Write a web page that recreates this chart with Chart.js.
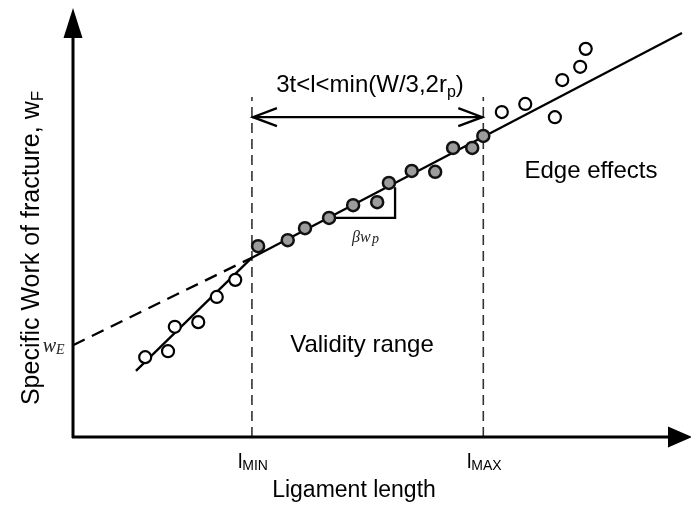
<!DOCTYPE html>
<html>
<head>
<meta charset="utf-8">
<script src="https://cdn.jsdelivr.net/npm/chart.js@4/dist/chart.umd.min.js"></script>
<style>
  body { margin: 0; background: #fff; }
  #wrap { width: 691px; height: 508px; position: relative; }
</style>
</head>
<body>
<div id="wrap"><canvas id="chart"></canvas></div>
<script>
// ligament length (x) vs specific work of fracture (y), arbitrary units 0-100
const openLeftX = [11.7, 15.4, 16.5, 20.3, 23.3, 26.3];
const openLeftY = [18.7, 20.1, 25.8, 26.9, 32.8, 36.8];
const validX = [30.0, 34.8, 37.6, 41.5, 45.4, 49.3, 51.2, 54.9, 58.7, 61.6, 64.7, 66.5];
const validY = [44.7, 46.1, 48.9, 51.3, 54.3, 55.0, 59.5, 62.3, 62.1, 67.7, 67.7, 70.5];
const edgeX = [69.5, 73.3, 78.1, 79.3, 82.2, 83.1];
const edgeY = [76.1, 78.0, 74.9, 83.6, 86.7, 90.9];

const lMin = 29.0;
const lMax = 66.5;
const wE = 21.5;
const fitLowX = [10.2, lMin];
const fitLowY = [15.5, 42.0];
const fitMainX = [lMin, 98.7];
const fitMainY = [42.0, 94.6];
const extX = [0, lMin];
const extY = [wE, 42.0];
const rangeY = 74.9;
const guideTop = 79.6;
const triX = [41.5, 52.2, 52.2];
const triY = [51.3, 51.3, 58.5];

function pts(xs, ys) {
    return xs.map((x, i) => ({x: x, y: ys[i]}));
}

function lineSet(xs, ys, opts) {
    return Object.assign({
        data: pts(xs, ys),
        showLine: true,
        pointRadius: 0,
        borderColor: '#000',
        borderWidth: 2.3,
        fill: false
    }, opts || {});
}

// text with optional subscript pieces: [[text, size, dy], ...]
function drawParts(ctx, parts, x, y, family) {
    let w = 0;
    parts.forEach(p => {
        ctx.font = p[1] + 'px ' + family;
        w += ctx.measureText(p[0]).width;
    });
    let cx = x - w / 2;
    ctx.textAlign = 'left';
    ctx.textBaseline = 'alphabetic';
    parts.forEach(p => {
        ctx.font = p[1] + 'px ' + family;
        ctx.fillText(p[0], cx, y + (p[2] || 0));
        cx += ctx.measureText(p[0]).width;
    });
}

const sans = '"Liberation Sans", Arial, sans-serif';
const serif = '"Liberation Serif", "DejaVu Serif", serif';

const decor = {
    id: 'decor',
    afterDatasetsDraw(chart) {
        const ctx = chart.ctx;
        const xs = chart.scales.x, ys = chart.scales.y;
        const x0 = xs.getPixelForValue(0), y0 = ys.getPixelForValue(0);
        ctx.save();
        ctx.fillStyle = '#000';
        ctx.strokeStyle = '#000';

        // axes with arrows
        ctx.lineWidth = 3;
        ctx.beginPath();
        ctx.moveTo(x0, y0 + 1);
        ctx.lineTo(x0, 36);
        ctx.moveTo(x0 - 1, y0);
        ctx.lineTo(670, y0);
        ctx.stroke();
        ctx.beginPath();
        ctx.moveTo(x0, 8);
        ctx.lineTo(x0 - 9.5, 38);
        ctx.lineTo(x0 + 9.5, 38);
        ctx.closePath();
        ctx.fill();
        ctx.beginPath();
        ctx.moveTo(692, y0);
        ctx.lineTo(668, y0 - 10.5);
        ctx.lineTo(668, y0 + 10.5);
        ctx.closePath();
        ctx.fill();

        // open arrow heads on the validity range
        const ay = ys.getPixelForValue(rangeY);
        const ax1 = xs.getPixelForValue(lMin), ax2 = xs.getPixelForValue(lMax);
        ctx.lineWidth = 2.3;
        ctx.beginPath();
        ctx.moveTo(ax1 + 25, ay - 9);
        ctx.lineTo(ax1 + 1, ay);
        ctx.lineTo(ax1 + 25, ay + 9);
        ctx.moveTo(ax2 - 25, ay - 9);
        ctx.lineTo(ax2 - 1, ay);
        ctx.lineTo(ax2 - 25, ay + 9);
        ctx.stroke();

        // labels
        drawParts(ctx, [['3t<l<min(W/3,2r', 24], ['p', 16, 5], [')', 24]], 370, 92, sans);
        drawParts(ctx, [['Validity range', 24]], 362, 352, sans);
        drawParts(ctx, [['Edge effects', 24]], 591, 178, sans);
        drawParts(ctx, [['Ligament length', 23]], 354, 497, sans);
        drawParts(ctx, [['l', 20], ['MIN', 14, 2]], xs.getPixelForValue(lMin) + 1, 468, sans);
        drawParts(ctx, [['l', 20], ['MAX', 14, 2]], xs.getPixelForValue(lMax) + 1, 468, sans);

        ctx.fillStyle = '#222';
        ctx.font = 'italic 20px ' + serif;
        ctx.textAlign = 'right';
        ctx.fillText('w', 56, ys.getPixelForValue(wE) + 7);
        ctx.font = 'italic 14px ' + serif;
        ctx.textAlign = 'left';
        ctx.fillText('E', 56, ys.getPixelForValue(wE) + 9);

        ctx.font = 'italic 16px ' + serif;
        ctx.fillText('\u03B2w', 352, 242);
        ctx.font = 'italic 14px ' + serif;
        ctx.fillText('p', 372, 243);

        ctx.fillStyle = '#000';
        ctx.save();
        ctx.translate(39, 248);
        ctx.rotate(-Math.PI / 2);
        drawParts(ctx, [['Specific Work of fracture, w', 25], ['F', 17, 4]], 0, 0, sans);
        ctx.restore();

        ctx.restore();
    }
};

const ctx = document.getElementById('chart').getContext('2d');
new Chart(ctx, {
    type: 'scatter',
    data: {
        datasets: [
            {
                data: pts(openLeftX, openLeftY),
                pointRadius: 6,
                pointBackgroundColor: '#fff',
                pointBorderColor: '#000',
                pointBorderWidth: 2.2
            },
            {
                data: pts(validX, validY),
                pointRadius: 6,
                pointBackgroundColor: '#9c9c9c',
                pointBorderColor: '#111',
                pointBorderWidth: 2.5
            },
            {
                data: pts(edgeX, edgeY),
                pointRadius: 6,
                pointBackgroundColor: '#fff',
                pointBorderColor: '#000',
                pointBorderWidth: 2.2
            },
            lineSet(fitLowX, fitLowY),
            lineSet(fitMainX, fitMainY),
            lineSet(extX, extY, {borderDash: [13, 8]}),
            lineSet([lMin, lMin], [0, guideTop], {borderDash: [10, 6], borderWidth: 1.6, borderColor: '#333'}),
            lineSet([lMax, lMax], [0, guideTop], {borderDash: [10, 6], borderWidth: 1.6, borderColor: '#333'}),
            lineSet([lMin, lMax], [rangeY, rangeY]),
            lineSet(triX, triY)
        ]
    },
    options: {
        responsive: true,
        maintainAspectRatio: false,
        animation: false,
        layout: { autoPadding: false, padding: { left: 73, right: 1, top: 10, bottom: 71 } },
        plugins: { legend: { display: false }, tooltip: { enabled: false } },
        scales: {
            x: { type: 'linear', min: 0, max: 100, display: false },
            y: { type: 'linear', min: 0, max: 100, display: false }
        }
    },
    plugins: [decor]
});
</script>
</body>
</html>
